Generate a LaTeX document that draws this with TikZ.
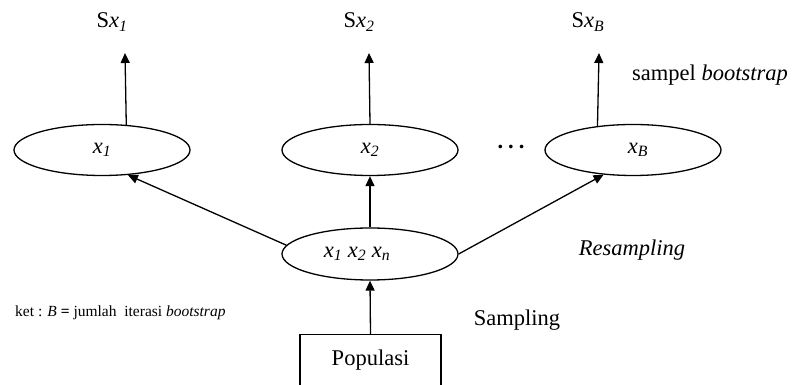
\documentclass[tikz,border=0pt]{standalone}
\usepackage{fontspec}
\setmainfont{Liberation Serif}
\usetikzlibrary{shapes.geometric,arrows.meta}
\newcommand{\xsub}[1]{\textit{x}\textsubscript{\textit{#1}}}
\begin{document}
\begin{tikzpicture}[x=1pt,y=1pt,
  every node/.style={font=\fontsize{22.5}{26}\selectfont},
  oval/.style={draw, ellipse, line width=1.3pt, minimum width=176pt, minimum height=51pt, inner sep=0pt},
  arr/.style={line width=1.3pt, -{Triangle[length=10pt,width=9pt]}},
  lbl/.style={inner sep=2pt}]
\useasboundingbox (0,0) rectangle (793,385);
% bootstrap sample ellipses
\node[oval] (e1) at (102,235) {\xsub{1}};
\node[oval] (e2) at (370,235) {\xsub{2}};
\node[oval] (eB) at (633,235) {\hspace*{10pt}\xsub{B}};
\node[lbl] (dots) at (511,238) {\bfseries .\hspace{5pt}.\hspace{5pt}.};
% statistics
\node[lbl] (s1) at (112,363) {S\xsub{1}};
\node[lbl] (s2) at (359,363) {S\xsub{2}};
\node[lbl] (sB) at (588,363) {S\xsub{B}};
\coordinate (t1) at (125,332);
\coordinate (t2) at (369,332);
\coordinate (tB) at (599,332);
\draw[arr] (e1.46) -- (t1);
\draw[arr] (e2.north) -- (t2);
\draw[arr] (eB.146) -- (tB);
% sample
\node[oval, minimum height=52pt] (m) at (370,131) {\xsub{1} \xsub{2} \xsub{n}\hspace*{26pt}};
\draw[arr] (m.174) -- (e1.316);
\draw[arr] (m.north) -- (e2.south);
\draw[arr] (m.east) -- (eB.220);
% population
\node[draw, line width=1.3pt, anchor=north, minimum width=141pt, inner xsep=2pt, inner ysep=6pt,
      text height=25pt, text depth=30pt] (pop) at (370.5,51) {Populasi};
\draw[arr] (pop.north) -- (m.south);
% annotations
\node[lbl] (sb) at (710,310) {sampel \textit{bootstrap}};
\node[lbl] (rs) at (632,135) {\textit{Resampling}};
\node[lbl] (sp) at (517,65) {Sampling};
\node[lbl, anchor=west, font=\fontsize{15.5}{18}\selectfont] (ket) at (13,72)
  {ket : \textit{B} \textbf{=} jumlah\ \ iterasi \textit{bootstrap}};
\end{tikzpicture}
\end{document}
